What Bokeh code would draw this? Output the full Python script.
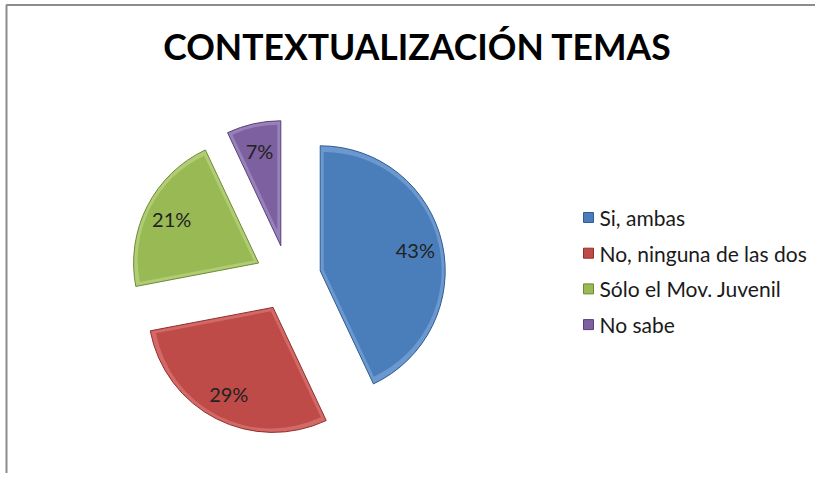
import math
from bokeh.plotting import figure
from bokeh.models import Range1d, ColumnDataSource
from bokeh.embed import file_html
from bokeh.resources import INLINE
from bokeh.core.properties import value

# ---- data ----
title = "CONTEXTUALIZACIÓN TEMAS"
categories = ["Si, ambas", "No, ninguna de las dos", "Sólo el Mov. Juvenil", "No sabe"]
percents = [43, 29, 21, 7]
colors = ["#4a7ebb", "#be4b48", "#98b954", "#7d60a0"]
rim_colors = ["#6b98cf", "#d26966", "#b0cc74", "#9880b8"]
edge_colors = ["#2f5c91", "#8e2f2d", "#6d8a35", "#583f7a"]

# ---- layout ----
W, H = 815, 473
FONT = "Lato"
cx, cy = 287.5, H - 277.5
R = 125
EXPLODE = 33
INSET = 3.5

p = figure(width=W, height=H, x_range=Range1d(0, W), y_range=Range1d(0, H),
           output_backend="svg", toolbar_location=None, min_border=0,
           outline_line_color=None, background_fill_color="white",
           border_fill_color="white")
p.axis.visible = False
p.grid.visible = False

# frame of the chart area (left and top visible)
p.line(x=[6, 6, W + 10], y=[-10, H - 4.5, H - 4.5], line_color="#8c8c8c", line_width=2)

total = float(sum(percents))
cum = 0.0
wx, wy, sa, ea, ix, iy, ir, lx, ly, labels = [], [], [], [], [], [], [], [], [], []
for v in percents:
    a = cum / total
    b = (cum + v) / total
    cum += v
    start = math.pi / 2 - 2 * math.pi * b
    end = math.pi / 2 - 2 * math.pi * a
    mid = (start + end) / 2
    half = (end - start) / 2
    ox = cx + EXPLODE * math.cos(mid)
    oy = cy + EXPLODE * math.sin(mid)
    wx.append(ox); wy.append(oy); sa.append(start); ea.append(end)
    shift = INSET / math.sin(min(half, math.pi / 2))
    ix.append(ox + shift * math.cos(mid)); iy.append(oy + shift * math.sin(mid))
    ir.append(R - INSET - shift)
    lx.append(ox + 0.78 * R * math.cos(mid)); ly.append(oy + 0.78 * R * math.sin(mid))
    labels.append(f"{v}%")

src = ColumnDataSource(dict(x=wx, y=wy, ix=ix, iy=iy, ir=ir, sa=sa, ea=ea, c=colors,
                            rim=rim_colors, edge=edge_colors, lx=lx, ly=ly, lab=labels))

p.wedge(x="x", y="y", radius=R, start_angle="sa", end_angle="ea", source=src,
        fill_color="rim", line_color="edge", line_width=1)
p.wedge(x="ix", y="iy", radius="ir", start_angle="sa", end_angle="ea", source=src,
        fill_color="c", line_color=None)

p.text(x="lx", y="ly", text="lab", source=src, text_align="center", text_baseline="middle",
       text_font=value(FONT), text_font_size="20px", text_color="#222222")

# title
p.text(x=[417], y=[H - 46], text=[title], text_align="center", text_baseline="middle",
       text_font=value(FONT), text_font_style="bold", text_font_size="35.5px", text_color="#000000")

# legend
ly0 = [H - (217 + 35.7 * i) for i in range(len(categories))]
leg = ColumnDataSource(dict(mx=[588] * len(categories), tx=[599] * len(categories),
                            y=ly0, c=colors, edge=edge_colors, t=categories))
p.scatter(x="mx", y="y", source=leg, marker="square", size=10, fill_color="c",
          line_color="edge", line_width=1)
p.text(x="tx", y="y", text="t", source=leg, text_align="left", text_baseline="middle",
       text_font=value(FONT), text_font_size="21px", text_color="#1a1a1a")

open("out.html", "w").write(file_html(p, INLINE))
